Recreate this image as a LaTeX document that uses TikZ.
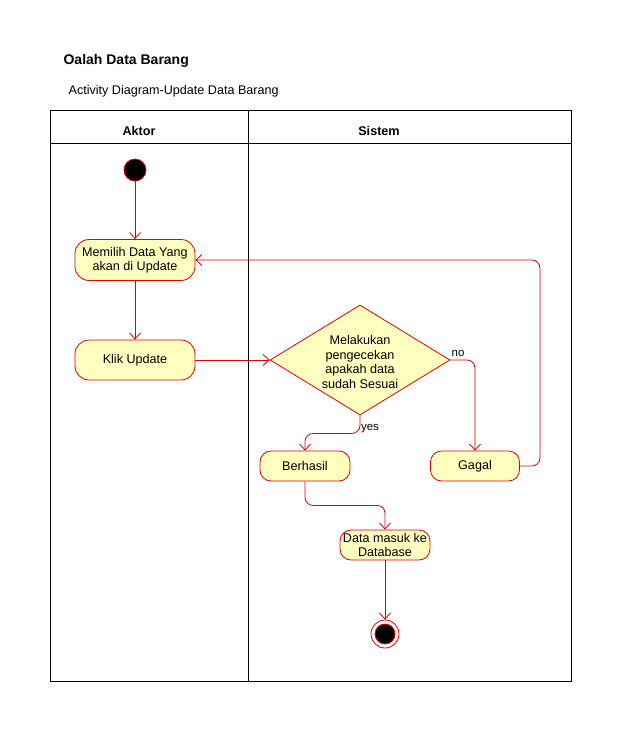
\documentclass[tikz,border=0pt]{standalone}
\usepackage{fontspec}
\setmainfont{Liberation Sans}
\usetikzlibrary{arrows.meta,shapes.geometric,positioning}
\definecolor{actfill}{HTML}{FFFFC0}
\definecolor{actline}{HTML}{E00000}

\begin{document}
\begin{tikzpicture}[x=1pt,y=-1pt,->,>={Straight Barb[length=6pt,width=11pt]},line width=0.8pt,draw=actline]
\useasboundingbox (0,0) rectangle (621,731);
\fontsize{12.6}{14.5}\selectfont
\tikzstyle{act}=[rounded corners=11pt, draw=actline, fill=actfill, minimum width=90pt, minimum height=30pt, align=center, inner sep=1pt]
\tikzstyle{dec}=[diamond, draw=actline, fill=actfill, minimum width=180pt, minimum height=110pt, inner sep=0pt]
\tikzstyle{lane}=[-, draw=black, line width=0.9pt]
\tikzstyle{head}=[font=\bfseries\fontsize{12.6}{14.5}\selectfont]
% judul
\node[anchor=west, font=\bfseries\fontsize{14}{16}\selectfont] (judul) at (59,61) {Oalah Data Barang};
\node[anchor=west] (subjudul) at (64,91) {Activity Diagram-Update Data Barang};
% swimlane
\draw[lane] (50,110) rectangle (571,681);
\draw[lane] (50,143) -- (571,143);
\draw[lane] (248,110) -- (248,681);
\node[head] (aktor) at (139,131) {Aktor};
\node[head] (sistem) at (379,131) {Sistem};
% aktivitas
\node[circle, draw=actline, fill=black, minimum size=22pt, inner sep=0pt] (mulai) at (135,170) {};
\node[act, minimum width=120pt, minimum height=41pt, rounded corners=14pt] (pilih) at (135,260) {Memilih Data Yang\\akan di Update};
\node[act, minimum width=120pt, minimum height=40pt, rounded corners=14pt] (klik) at (135,360) {Klik Update};
\node[dec] (cek) at (360,360) {};
\node[align=center, font=\fontsize{12.6}{14.5}\selectfont] (cektext) at (360,362) {Melakukan\\pengecekan\\apakah data\\sudah Sesuai};
\node[act] (berhasil) at (305,466) {Berhasil};
\node[act, minimum width=89pt] (gagal) at (475,466) {Gagal};
\node[act] (data) at (385,545) {Data masuk ke\\Database};
\node[circle, draw=actline, fill=white, minimum size=28pt, inner sep=0pt] (selesai) at (385,634) {};
\node[circle, draw=actline, fill=black, minimum size=20pt, inner sep=0pt] (selesaiin) at (selesai) {};
% alur
\draw (mulai) -- (pilih);
\draw (pilih) -- (klik);
\draw (klik) -- (cek.west);
\draw[rounded corners=8pt] (cek.east) -| (gagal.north);
\draw[rounded corners=8pt] (cek.south) -- ++(0,18) -| (berhasil.north);
\draw[rounded corners=8pt] (gagal.east) -- ++(20,0) |- (pilih.east);
\draw[rounded corners=8pt] (berhasil.south) -- ++(0,24) -| (data.north);
\draw (data) -- (selesai);
\node[font=\fontsize{11.5}{13}\selectfont] (no) at (458,353) {no};
\node[font=\fontsize{11.5}{13}\selectfont] (yes) at (370,429) {yes};
\end{tikzpicture}
\end{document}
